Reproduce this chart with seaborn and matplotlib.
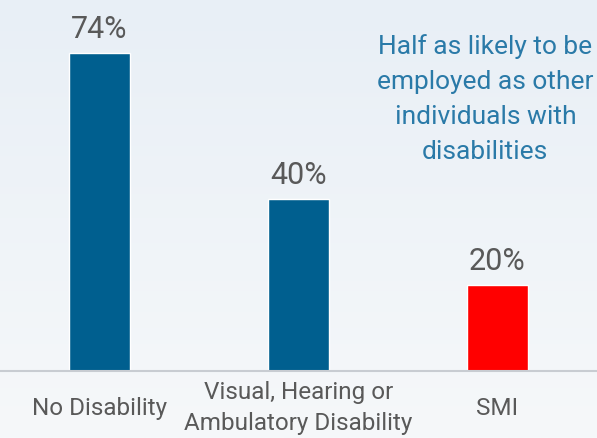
import numpy as np
import pandas as pd
import matplotlib
matplotlib.use("Agg")
import matplotlib.pyplot as plt
import seaborn as sns

# Employment rate by disability status
categories = ["No Disability", "Visual, Hearing or\nAmbulatory Disability", "SMI"]
employment_pct = [74, 40, 20]
bar_colors = ["#005f8f", "#005f8f", "#ff0000"]
value_labels = ["74%", "40%", "20%"]
note = "Half as likely to be\nemployed as other\nindividuals with\ndisabilities"

sns.set_theme(style="white")
plt.rcParams["font.family"] = ["Roboto", "DejaVu Sans"]

df = pd.DataFrame({"group": categories, "pct": employment_pct})

fig = plt.figure(figsize=(5.97, 4.39), dpi=100)

# soft vertical gradient behind the chart
bg = fig.add_axes([0, 0, 1, 1], zorder=0)
top = np.array([0xe8, 0xef, 0xf6]) / 255
bottom = np.array([0xf6, 0xf8, 0xfa]) / 255
t = np.linspace(0, 1, 256)[:, None]
grad = top[None, :] * (1 - t) + bottom[None, :] * t
bg.imshow(grad[:, None, :], aspect="auto", extent=[0, 1, 0, 1], origin="upper")
bg.set_axis_off()

ax = fig.add_axes([0.0, 0.1526, 1.0, 0.8474], zorder=1)
ax.patch.set_alpha(0)

sns.barplot(data=df, x="group", y="pct", hue="group", palette=bar_colors,
            width=0.31, legend=False, ax=ax, saturation=1)

ax.set_xlim(-0.5, 2.5)
ax.set_ylim(0, 86.5)

for i, (v, lab) in enumerate(zip(employment_pct, value_labels)):
    ax.annotate(lab, xy=(i, v), xytext=(0, 11.5), textcoords="offset points",
                ha="center", va="baseline", fontsize=22, color="#595959")

ax.text(0.813, 0.735, note, transform=ax.transAxes, ha="center", va="center",
        fontsize=19, color="#2a7aa8", linespacing=1.58)

for s in ["top", "left", "right"]:
    ax.spines[s].set_visible(False)
ax.spines["bottom"].set_color("#c8ccd2")
ax.spines["bottom"].set_linewidth(1.5)

ax.set_xlabel("")
ax.set_ylabel("")
ax.set_yticks([])
ax.tick_params(axis="x", length=0, pad=26, labelsize=17.5, labelcolor="#595959")
for lbl in ax.get_xticklabels():
    lbl.set_linespacing(1.45)
    lbl.set_verticalalignment("center")

fig.savefig("out.png", dpi=100)
